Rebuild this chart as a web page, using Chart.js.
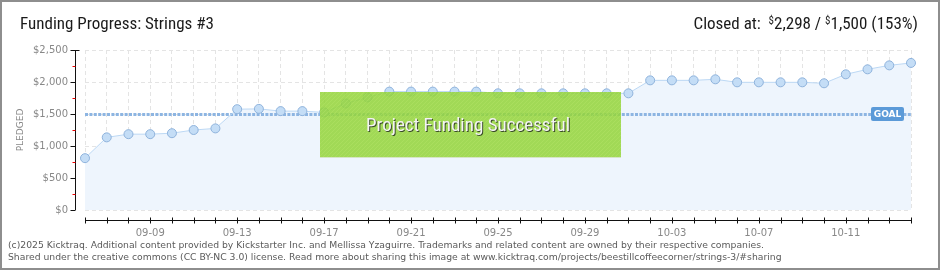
<!DOCTYPE html>
<html>
<head>
<meta charset="utf-8">
<script src="https://cdn.jsdelivr.net/npm/chart.js@4/dist/chart.umd.min.js"></script>
<style>
  html, body { margin: 0; padding: 0; background: #fff; }
  #wrap { position: relative; width: 940px; height: 270px; overflow: hidden; }
  #wrap canvas { position: absolute; left: 0; top: 0; }
  #frame { position: absolute; left: 0; top: 0; width: 940px; height: 270px; box-sizing: border-box; border: 2px solid #8e8e8e; pointer-events: none; }
  .head { position: absolute; top: 13px; font: 17px 'Liberation Sans Narrow', 'Roboto Condensed', 'Liberation Sans', sans-serif; color: #1a1a1a; white-space: nowrap; }
  .head sup { font-size: 11px; vertical-align: 5px; line-height: 0; }
  .foot { position: absolute; left: 8px; font: 9.25px 'DejaVu Sans', sans-serif; color: #5a5a5a; white-space: nowrap; }
</style>
</head>
<body>
<div id="wrap">
  <canvas id="chart" width="940" height="270"></canvas>
  <div class="head" style="left:20px">Funding Progress: Strings #3</div>
  <div class="head" style="right:22px">Closed at:&nbsp; <sup>$</sup>2,298 / <sup>$</sup>1,500 (153%)</div>
  <div class="foot" style="top:239px">(c)2025 Kicktraq. Additional content provided by Kickstarter Inc. and Mellissa Yzaguirre. Trademarks and related content are owned by their respective companies.</div>
  <div class="foot" style="top:251px">Shared under the creative commons (CC BY-NC 3.0) license. Read more about sharing this image at www.kicktraq.com/projects/beestillcoffeecorner/strings-3/#sharing</div>
  <div id="frame"></div>
</div>
<script>
// pledged totals per day
const dates = [
  '09-06', '09-07', '09-08', '09-09', '09-10', '09-11', '09-12', '09-13', '09-14', '09-15',
  '09-16', '09-17', '09-18', '09-19', '09-20', '09-21', '09-22', '09-23', '09-24', '09-25',
  '09-26', '09-27', '09-28', '09-29', '09-30', '10-01', '10-02', '10-03', '10-04', '10-05',
  '10-06', '10-07', '10-08', '10-09', '10-10', '10-11', '10-12', '10-13', '10-14'
];
const pledged = [
  810, 1135, 1185, 1185, 1200, 1250, 1275, 1575, 1580, 1545,
  1545, 1525, 1665, 1760, 1850, 1850, 1850, 1850, 1850, 1823,
  1823, 1823, 1823, 1823, 1823, 1823, 2026, 2026, 2026, 2042,
  1995, 1995, 1995, 1995, 1980, 2120, 2198, 2260, 2298
];
const shownDates = ['09-09', '09-13', '09-17', '09-21', '09-25', '09-29', '10-03', '10-07', '10-11'];
const GOAL = 1500;
const Y_MAX = 2500;

const hatch = (() => {
  const c = document.createElement('canvas');
  c.width = 4; c.height = 4;
  const g = c.getContext('2d');
  g.fillStyle = 'rgba(148, 212, 58, 0.86)';
  g.fillRect(0, 0, 4, 4);
  g.strokeStyle = 'rgba(185, 232, 110, 0.35)';
  g.lineWidth = 1;
  g.beginPath(); g.moveTo(0, 4); g.lineTo(4, 0); g.stroke();
  return c;
})();

const decor = {
  id: 'decor',
  beforeDatasetsDraw(chart) {
    const { ctx, chartArea: a, scales: { y } } = chart;
    const gy = Math.round(y.getPixelForValue(GOAL)) + 0.5;
    ctx.save();
    ctx.strokeStyle = '#8db5e2';
    ctx.lineWidth = 3;
    ctx.setLineDash([3, 1.4]);
    ctx.beginPath(); ctx.moveTo(a.left, gy); ctx.lineTo(a.right, gy); ctx.stroke();
    ctx.restore();
  },
  afterDatasetsDraw(chart) {
    const { ctx, chartArea: a, scales: { x, y } } = chart;
    ctx.save();

    // offset axes
    const ax = a.left - 9.5;
    ctx.strokeStyle = '#111';
    ctx.lineWidth = 1;
    ctx.beginPath(); ctx.moveTo(ax, y.getPixelForValue(Y_MAX)); ctx.lineTo(ax, y.getPixelForValue(0)); ctx.stroke();
    y.ticks.forEach(t => {
      const py = Math.round(y.getPixelForValue(t.value)) + 0.5;
      const major = t.value % 500 === 0;
      ctx.strokeStyle = major ? '#111' : '#e00';
      ctx.beginPath(); ctx.moveTo(ax - (major ? 5 : 3), py); ctx.lineTo(ax + (t.value === Y_MAX ? 4 : 0), py); ctx.stroke();
    });
    const by = a.bottom + 10.5;
    ctx.strokeStyle = '#111';
    ctx.beginPath(); ctx.moveTo(a.left, by); ctx.lineTo(a.right, by); ctx.stroke();
    x.ticks.forEach((t, i) => {
      const px = Math.round(x.getPixelForTick(i)) + 0.5;
      ctx.beginPath(); ctx.moveTo(px, by - 3); ctx.lineTo(px, by + 3); ctx.stroke();
    });

    // goal tag
    const gy = Math.round(y.getPixelForValue(GOAL));
    ctx.fillStyle = '#5b9ad8';
    ctx.beginPath();
    ctx.roundRect(a.right - 40, gy - 7, 33, 14, 2);
    ctx.fill();
    ctx.fillStyle = '#fff';
    ctx.font = 'bold 9px "DejaVu Sans", sans-serif';
    ctx.textAlign = 'center';
    ctx.textBaseline = 'middle';
    ctx.fillText('GOAL', a.right - 23.5, gy + 0.5);

    // success banner
    ctx.fillStyle = ctx.createPattern(hatch, 'repeat');
    ctx.fillRect(320, 92, 301, 66);
    ctx.fillStyle = 'rgba(220, 230, 210, 0.9)';
    ctx.fillRect(320, 157, 301, 1);
    ctx.font = '19px "Liberation Sans Narrow", "Roboto Condensed", "Liberation Sans", sans-serif';
    ctx.textAlign = 'left';
    ctx.textBaseline = 'middle';
    ctx.fillStyle = '#3a4a2a';
    ctx.fillText('Project Funding Successful', 367, 127);
    ctx.fillStyle = '#f4f4f4';
    ctx.fillText('Project Funding Successful', 366, 126);

    ctx.restore();
  }
};

new Chart(document.getElementById('chart'), {
  type: 'line',
  data: {
    labels: dates,
    datasets: [{
      data: pledged,
      borderColor: '#bcd8f4',
      borderWidth: 1,
      backgroundColor: '#eef5fd',
      fill: 'origin',
      tension: 0,
      pointRadius: 4.5,
      pointBackgroundColor: '#c4ddf6',
      pointBorderColor: '#8fb3dc',
      pointBorderWidth: 1
    }]
  },
  options: {
    responsive: false,
    animation: false,
    devicePixelRatio: 1,
    layout: { padding: { top: 50, right: 29, left: 0, bottom: 0 } },
    plugins: {
      legend: { display: false },
      tooltip: { enabled: false },
      filler: { drawTime: 'beforeDatasetsDraw' }
    },
    scales: {
      x: {
        offset: false,
        afterFit: s => { s.height = 60; },
        grid: { color: '#e4e4e4', drawTicks: false },
        border: { display: false, dash: [4, 3] },
        ticks: {
          autoSkip: false,
          maxRotation: 0,
          padding: 17,
          color: '#888',
          font: { family: 'DejaVu Sans', size: 10 },
          callback: function (v, i) {
            const d = dates[i];
            return shownDates.includes(d) ? d : '';
          }
        }
      },
      y: {
        min: 0,
        max: Y_MAX,
        afterFit: s => { s.width = 85; },
        grid: {
          color: c => c.tick && c.tick.value % 500 === 0 ? '#e4e4e4' : 'rgba(0,0,0,0)',
          drawTicks: false
        },
        border: { display: false, dash: [4, 3] },
        ticks: {
          stepSize: 250,
          padding: 17,
          color: '#888',
          font: { family: 'DejaVu Sans', size: 10 },
          callback: v => v % 500 === 0 ? '$' + v.toLocaleString('en-US') : ''
        },
        title: {
          display: true,
          text: 'PLEDGED',
          color: '#888',
          font: { family: 'DejaVu Sans', size: 9 },
          padding: { top: 15, bottom: 0 }
        }
      }
    }
  },
  plugins: [decor]
});
</script>
</body>
</html>
